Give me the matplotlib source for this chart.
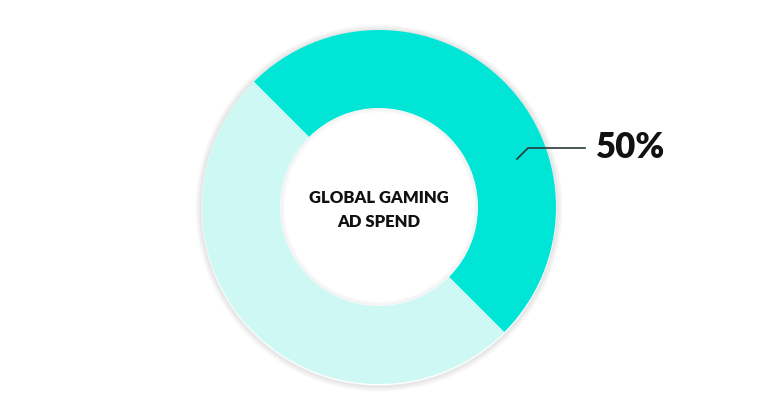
import matplotlib.pyplot as plt
from matplotlib.patches import Circle

# data
labels = ["Gaming", "Other"]
shares = [50, 50]
colors = ["#00E5D6", "#CDF8F4"]
center_text = "GLOBAL GAMING\nAD SPEND"
pct_label = "50%"

plt.rcParams['font.family'] = ['Lato', 'DejaVu Sans']

fig = plt.figure(figsize=(7.68, 4.03), dpi=100)
ax = fig.add_axes([0, 0, 1, 1])

cx, cy = 379, 403 - 207
r_out, r_in = 177, 99

# soft shadow round the ring
for i in range(6):
    ax.add_patch(Circle((cx, cy - 1), r_out + 1 + i, facecolor='none',
                        edgecolor='#000000', lw=1.2, alpha=0.011 * (6 - i), zorder=1))

ax.pie(shares, colors=colors, startangle=135, counterclock=False,
       center=(cx, cy), radius=r_out, frame=True,
       wedgeprops=dict(width=r_out - r_in, edgecolor='none', zorder=2))
ax.set_xlim(0, 768)
ax.set_ylim(0, 403)
ax.set_aspect('equal')
ax.axis('off')

# faint shadow inside the hole
for i in range(4):
    ax.add_patch(Circle((cx, cy), r_in - 1 - i, facecolor='none',
                        edgecolor='#000000', lw=1.0, alpha=0.01 * (4 - i), zorder=3))

ax.text(cx, 403 - 210, center_text, ha='center', va='center', fontsize=12,
        fontweight='heavy', color='#111111', linespacing=1.6, zorder=4)

ax.plot([517, 528, 585], [403 - 159, 403 - 148, 403 - 148], color='#2b3a3a', lw=1.2, zorder=4)
ax.text(596, 403 - 147, pct_label, ha='left', va='center', fontsize=25,
        fontweight='heavy', color='#111111', zorder=4)

fig.savefig('out.png', dpi=100)
